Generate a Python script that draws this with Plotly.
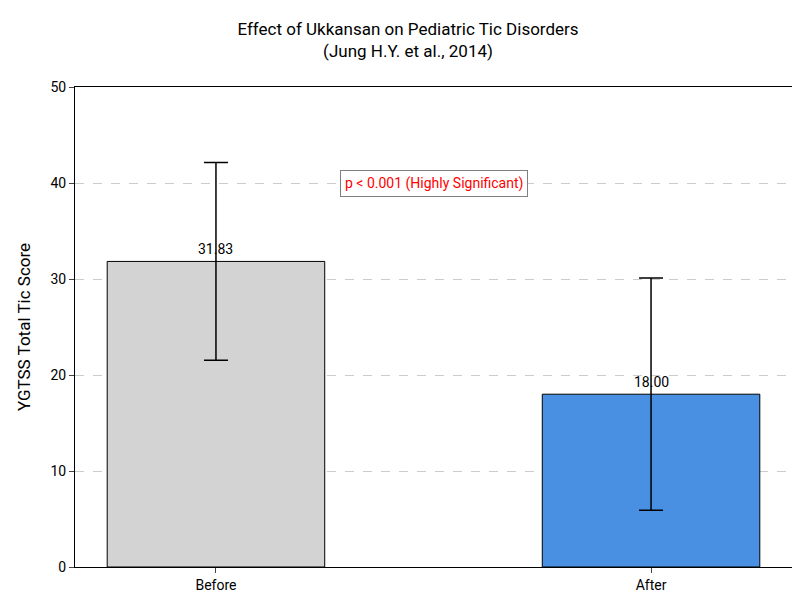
import plotly.graph_objects as go

phases = ["Before", "After"]
means = [31.83, 18.00]
sds = [10.3, 12.1]
colors = ["#d3d3d3", "#4a90e2"]

fig = go.Figure()
fig.add_trace(go.Bar(
    x=[0, 1], y=means, width=0.5,
    marker=dict(color=colors, line=dict(color="black", width=1)),
    error_y=dict(type="data", array=sds, color="black", thickness=1.5, width=12),
    text=[f"{m:.2f}" for m in means], textposition="outside",
    textfont=dict(size=14, color="black"), cliponaxis=False,
))
for i, m in enumerate(means):
    pass

fig.add_annotation(x=0.5, y=40, text="p < 0.001 (Highly Significant)", showarrow=False,
                   font=dict(color="red", size=14), bgcolor="white",
                   bordercolor="gray", borderwidth=1, borderpad=4)

fig.update_layout(
    width=800, height=600, template="simple_white",
    font=dict(family="Roboto", size=14, color="black"),
    title=dict(text="Effect of Ukkansan on Pediatric Tic Disorders<br>(Jung H.Y. et al., 2014)",
               x=0.5, xanchor="center", y=0.955, font=dict(size=17)),
    margin=dict(l=67, r=16, t=79, b=41),
    showlegend=False,
    xaxis=dict(range=[-0.324, 1.324], tickvals=[0, 1], ticktext=phases,
               mirror=True, showline=True, linecolor="black", ticks="outside"),
    yaxis=dict(range=[0, 50], dtick=10, title="YGTSS Total Tic Score",
               mirror=True, showline=True, linecolor="black", ticks="outside",
               showgrid=True, gridcolor="#cccccc", griddash="dash"),
)
fig.update_traces(textposition="none")
for i, m in enumerate(means):
    fig.add_annotation(x=i, y=m, text=f"{m:.2f}", showarrow=False, yanchor="bottom",
                       yshift=2, font=dict(size=14))

fig.write_html("out.html")
